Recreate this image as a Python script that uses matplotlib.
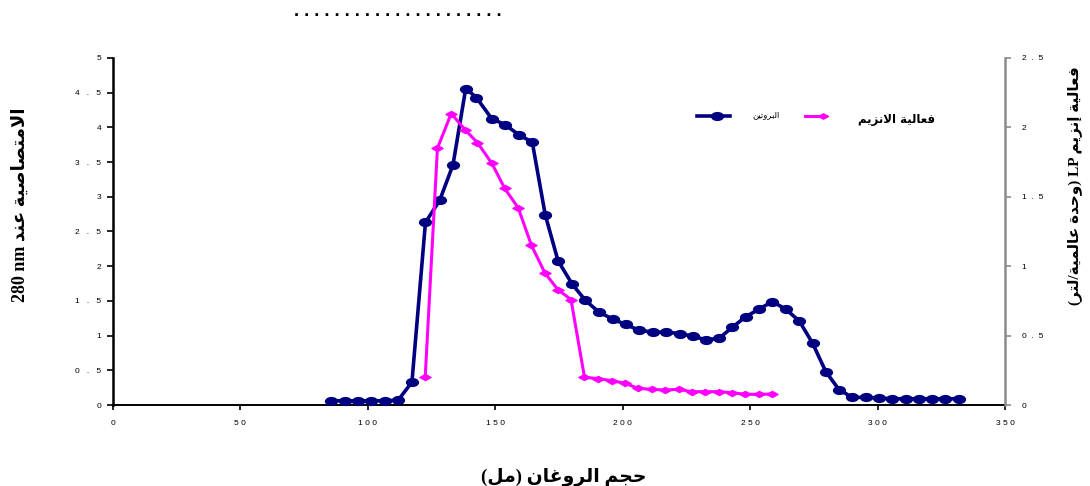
import re
import matplotlib
matplotlib.use("Agg")
import matplotlib.pyplot as plt
from matplotlib.path import Path
from matplotlib.transforms import Affine2D
from matplotlib.lines import Line2D

# ---- data -------------------------------------------------------------
protein_volume = [85.5, 90.9, 96.2, 101.4, 106.6, 111.9, 117.3, 122.6, 128.2, 133.4,
                  138.4, 142.6, 148.7, 153.9, 159.3, 164.5, 169.6, 174.6, 180.2, 185.3,
                  190.6, 196.0, 201.1, 206.3, 211.7, 217.0, 222.3, 227.5, 232.6, 237.8,
                  243.0, 248.2, 253.4, 258.7, 264.0, 269.3, 274.5, 279.7, 284.9, 290.1,
                  295.3, 300.5, 305.8, 311.0, 316.2, 321.4, 326.6, 331.9]
protein_a280 = [0.06, 0.06, 0.06, 0.06, 0.06, 0.07, 0.33, 2.63, 2.95, 3.46,
                4.56, 4.43, 4.12, 4.04, 3.89, 3.79, 2.74, 2.08, 1.74, 1.51,
                1.34, 1.24, 1.16, 1.08, 1.05, 1.05, 1.03, 0.99, 0.94, 0.96,
                1.12, 1.27, 1.38, 1.49, 1.38, 1.21, 0.89, 0.48, 0.22, 0.11,
                0.11, 0.10, 0.09, 0.09, 0.09, 0.09, 0.09, 0.09]

enzyme_volume = [122.5, 127.3, 132.7, 138.3, 143.0, 148.7, 153.7, 159.0, 164.2, 169.5,
                 174.6, 179.7, 185.0, 190.3, 195.7, 201.0, 206.0, 211.3, 216.6, 222.0,
                 227.2, 232.4, 237.6, 242.9, 248.1, 253.3, 258.6]
enzyme_activity = [0.20, 1.85, 2.10, 1.98, 1.89, 1.74, 1.56, 1.42, 1.15, 0.95,
                   0.83, 0.76, 0.20, 0.19, 0.175, 0.156, 0.12, 0.113, 0.108, 0.113,
                   0.096, 0.096, 0.096, 0.089, 0.077, 0.077, 0.079]

x_ticks = [0, 50, 100, 150, 200, 250, 300, 350]
x_tick_labels = ["0", "5 0", "1 0 0", "1 5 0", "2 0 0", "2 5 0", "3 0 0", "3 5 0"]
left_ticks = [0, 0.5, 1, 1.5, 2, 2.5, 3, 3.5, 4, 4.5, 5]
left_tick_labels = ["0", "0   .   5", "1", "1   .   5", "2", "2   .   5", "3",
                    "3   .   5", "4", "4   .   5", "5"]
right_ticks = [0, 0.5, 1, 1.5, 2, 2.5]
right_tick_labels = ["0", "0  .  5", "1", "1  .  5", "2", "2  .  5"]

xlabel_text = "حجم الروغان (مل)"
left_label_text = "الامتصاصية عند 280 nm"
right_label_text = "فعالية إنزيم LP (وحدة عالمية/لتر)"
protein_name = "البروتين"
enzyme_name = "فعالية الانزيم"

# ---- Arabic shaping (presentation forms) and right-to-left ordering ----
_LETTERS = {
    'آ': (0xFE81, 'R'), 'أ': (0xFE83, 'R'), 'ؤ': (0xFE85, 'R'), 'إ': (0xFE87, 'R'),
    'ئ': (0xFE89, 'D'), 'ا': (0xFE8D, 'R'), 'ب': (0xFE8F, 'D'), 'ة': (0xFE93, 'R'),
    'ت': (0xFE95, 'D'), 'ث': (0xFE99, 'D'), 'ج': (0xFE9D, 'D'), 'ح': (0xFEA1, 'D'),
    'خ': (0xFEA5, 'D'), 'د': (0xFEA9, 'R'), 'ذ': (0xFEAB, 'R'), 'ر': (0xFEAD, 'R'),
    'ز': (0xFEAF, 'R'), 'س': (0xFEB1, 'D'), 'ش': (0xFEB5, 'D'), 'ص': (0xFEB9, 'D'),
    'ض': (0xFEBD, 'D'), 'ط': (0xFEC1, 'D'), 'ظ': (0xFEC5, 'D'), 'ع': (0xFEC9, 'D'),
    'غ': (0xFECD, 'D'), 'ف': (0xFED1, 'D'), 'ق': (0xFED5, 'D'), 'ك': (0xFED9, 'D'),
    'ل': (0xFEDD, 'D'), 'م': (0xFEE1, 'D'), 'ن': (0xFEE5, 'D'), 'ه': (0xFEE9, 'D'),
    'و': (0xFEED, 'R'), 'ى': (0xFEEF, 'R'), 'ي': (0xFEF1, 'D'),
}
_LAM_ALEF = {'آ': 0xFEF5, 'أ': 0xFEF7, 'إ': 0xFEF9, 'ا': 0xFEFB}
_MIRROR = {'(': ')', ')': '(', '[': ']', ']': '['}


def _shape(s):
    units = []
    i = 0
    while i < len(s):
        c = s[i]
        if c == 'ل' and i + 1 < len(s) and s[i + 1] in _LAM_ALEF:
            b = _LAM_ALEF[s[i + 1]]
            units.append(((chr(b), chr(b + 1)), 'R'))
            i += 2
            continue
        if c in _LETTERS:
            b, t = _LETTERS[c]
            n = 4 if t == 'D' else 2
            units.append((tuple(chr(b + k) for k in range(n)), t))
        else:
            units.append(((c,), None))
        i += 1
    out = []
    for k, (forms, t) in enumerate(units):
        if t is None:
            out.append(forms[0])
            continue
        prev_t = units[k - 1][1] if k > 0 else None
        next_t = units[k + 1][1] if k + 1 < len(units) else None
        jp = prev_t == 'D'
        jn = t == 'D' and next_t in ('D', 'R')
        if jp and jn:
            out.append(forms[3])
        elif jp:
            out.append(forms[1])
        elif jn:
            out.append(forms[2])
        else:
            out.append(forms[0])
    return ''.join(out)


def ar(text):
    shaped = _shape(text)
    tokens = re.findall(r'[A-Za-z0-9]+(?:[ .][A-Za-z0-9]+)*|.', shaped)
    tokens = [t if (len(t) > 1 or t.isalnum()) else _MIRROR.get(t, t) for t in tokens]
    return ''.join(reversed(tokens))


# ---- marker shapes ----------------------------------------------------
ellipse_marker = Path.unit_circle().transformed(Affine2D().scale(1.0, 0.66))
diamond_marker = Path([(-1, 0), (0, 0.55), (1, 0), (0, -0.55), (-1, 0)],
                      [Path.MOVETO, Path.LINETO, Path.LINETO, Path.LINETO, Path.CLOSEPOLY])

NAVY = "#000080"
MAGENTA = "#FF00FF"
GREY = "#8C8C8C"

W, H = 1090, 486
fig = plt.figure(figsize=(W / 100, H / 100), dpi=100)
fig.patch.set_facecolor("white")

left, right, bottom, top = 113, 1005, 405, 58
ax = fig.add_axes([left / W, 1 - bottom / H, (right - left) / W, (bottom - top) / H])
ax2 = ax.twinx()

ax.plot(protein_volume, protein_a280, color=NAVY, lw=2.6, marker=ellipse_marker,
        ms=8.5, mfc=NAVY, mec=NAVY, zorder=3, clip_on=False)
ax2.plot(enzyme_volume, enzyme_activity, color=MAGENTA, lw=2.2, marker=diamond_marker,
         ms=8.0, mfc=MAGENTA, mec=MAGENTA, zorder=3, clip_on=False)

ax.set_xlim(0, 350)
ax.set_ylim(0, 5)
ax2.set_ylim(0, 2.5)

tick_font = dict(family="Liberation Sans", size=6)
ax.set_xticks(x_ticks)
ax.set_xticklabels(x_tick_labels, **tick_font)
ax.set_yticks(left_ticks)
ax.set_yticklabels(left_tick_labels, **tick_font)
ax2.set_yticks(right_ticks)
ax2.set_yticklabels(right_tick_labels, **tick_font)

for a in (ax, ax2):
    a.spines["top"].set_visible(False)
    a.patch.set_visible(False)
ax.spines["right"].set_visible(False)
ax2.spines["left"].set_visible(False)
ax2.spines["bottom"].set_visible(False)
ax.spines["left"].set_linewidth(1.8)
ax.spines["left"].set_color("black")
ax.spines["bottom"].set_linewidth(1.4)
ax.spines["bottom"].set_color("black")
ax2.spines["right"].set_linewidth(1.8)
ax2.spines["right"].set_color(GREY)

ax.tick_params(axis="y", direction="out", length=4.5, width=1.2, color="black", pad=4)
ax.tick_params(axis="x", direction="out", length=3.5, width=1.2, color="black", pad=7)
ax2.tick_params(axis="y", direction="out", length=4, width=1.2, color=GREY, pad=8)

# axis titles
fig.text(20 / W, 1 - 205 / H, ar(left_label_text), rotation=90, ha="center", va="center",
         fontsize=13, fontweight="bold", family=["Liberation Serif", "DejaVu Sans"])
fig.text(1075 / W, 1 - 186 / H, ar(right_label_text), rotation=90, ha="center", va="center",
         fontsize=11, fontweight="bold", family=["Liberation Serif", "DejaVu Sans"])
fig.text(564 / W, 1 - 482 / H, ar(xlabel_text), ha="center", va="baseline",
         fontsize=13.5, fontweight="bold", family=["Liberation Serif", "DejaVu Sans"])

# dotted heading
fig.text(294 / W, 1 - 12 / H, ". " * 20 + ".", ha="left", va="center",
         fontsize=13, fontweight="bold", family="Liberation Sans")

# legend
def fx(px):
    return px / W


def fy(py):
    return 1 - py / H


fig.add_artist(Line2D([fx(697), fx(730)], [fy(116), fy(116)], color=NAVY, lw=2.6))
fig.add_artist(Line2D([fx(717)], [fy(116)], color=NAVY, marker=ellipse_marker,
                      ms=8.5, mfc=NAVY, mec=NAVY, lw=0))
fig.text(fx(766), fy(115), ar(protein_name), ha="center", va="center", fontsize=6,
         family=["DejaVu Sans"])
fig.add_artist(Line2D([fx(805), fx(826)], [fy(116), fy(116)], color=MAGENTA, lw=2.2))
fig.add_artist(Line2D([fx(823)], [fy(116)], color=MAGENTA, marker=diamond_marker,
                      ms=7.0, mfc=MAGENTA, mec=MAGENTA, lw=0))
fig.text(fx(897), fy(120), ar(enzyme_name), ha="center", va="center", fontsize=8.5,
         fontweight="bold", family=["DejaVu Sans"])

fig.savefig("out.png", dpi=100)
